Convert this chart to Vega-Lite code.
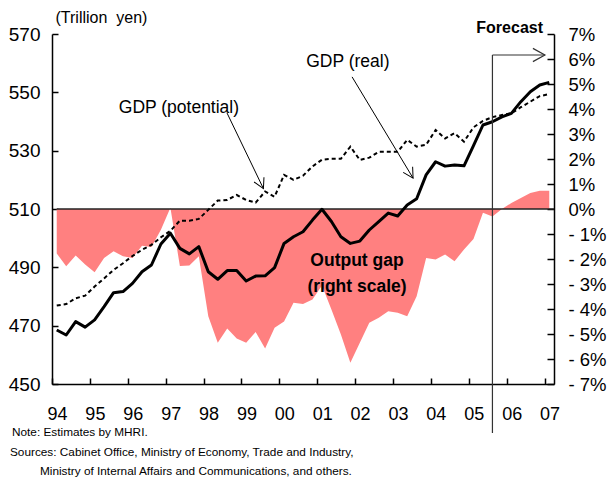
{
  "$schema": "https://vega.github.io/schema/vega-lite/v6.json",
  "width": 502,
  "height": 350,
  "autosize": "none",
  "padding": {"left": 52, "top": 34, "right": 54, "bottom": 98},
  "background": "white",
  "config": {
    "font": "Liberation Sans",
    "view": {"stroke": null},
    "axis": {"grid": false, "domainColor": "black", "tickColor": "black", "labelColor": "black", "labelFont": "Liberation Sans", "labelFontSize": 18.5, "domainWidth": 1.5, "tickWidth": 1.5, "labelOverlap": false}
  },
  "data": {"values": [
    {"t": 1994.125, "r": 468.5, "p": 476.9, "g": -1.78},
    {"t": 1994.375, "r": 466.8, "p": 477.4, "g": -2.29},
    {"t": 1994.625, "r": 471.4, "p": 479.4, "g": -1.86},
    {"t": 1994.875, "r": 469.5, "p": 480.3, "g": -2.22},
    {"t": 1995.125, "r": 472.0, "p": 483.4, "g": -2.53},
    {"t": 1995.375, "r": 476.5, "p": 486.2, "g": -1.96},
    {"t": 1995.625, "r": 481.3, "p": 489.1, "g": -1.69},
    {"t": 1995.875, "r": 481.7, "p": 491.4, "g": -1.89},
    {"t": 1996.125, "r": 484.5, "p": 493.9, "g": -1.96},
    {"t": 1996.375, "r": 488.5, "p": 496.0, "g": -1.47},
    {"t": 1996.625, "r": 490.8, "p": 497.7, "g": -1.52},
    {"t": 1996.875, "r": 498.0, "p": 500.3, "g": -0.83},
    {"t": 1997.125, "r": 501.7, "p": 502.5, "g": 0.05},
    {"t": 1997.375, "r": 496.5, "p": 506.0, "g": -2.28},
    {"t": 1997.625, "r": 494.6, "p": 506.0, "g": -2.26},
    {"t": 1997.875, "r": 497.1, "p": 506.6, "g": -1.89},
    {"t": 1998.125, "r": 488.5, "p": 509.7, "g": -4.29},
    {"t": 1998.375, "r": 485.9, "p": 512.9, "g": -5.35},
    {"t": 1998.625, "r": 488.9, "p": 513.1, "g": -4.78},
    {"t": 1998.875, "r": 488.9, "p": 514.8, "g": -5.18},
    {"t": 1999.125, "r": 485.3, "p": 513.1, "g": -5.35},
    {"t": 1999.375, "r": 487.0, "p": 512.2, "g": -4.92},
    {"t": 1999.625, "r": 487.1, "p": 516.0, "g": -5.58},
    {"t": 1999.875, "r": 489.9, "p": 514.2, "g": -4.75},
    {"t": 2000.125, "r": 498.2, "p": 521.7, "g": -4.5},
    {"t": 2000.375, "r": 500.5, "p": 520.0, "g": -3.75},
    {"t": 2000.625, "r": 502.2, "p": 521.4, "g": -3.8},
    {"t": 2000.875, "r": 506.2, "p": 524.6, "g": -3.62},
    {"t": 2001.125, "r": 509.9, "p": 526.9, "g": -3.06},
    {"t": 2001.375, "r": 505.7, "p": 527.2, "g": -4.02},
    {"t": 2001.625, "r": 500.5, "p": 527.2, "g": -5.02},
    {"t": 2001.875, "r": 498.2, "p": 531.4, "g": -6.15},
    {"t": 2002.125, "r": 499.0, "p": 526.8, "g": -5.35},
    {"t": 2002.375, "r": 502.8, "p": 527.6, "g": -4.55},
    {"t": 2002.625, "r": 505.7, "p": 529.6, "g": -4.35},
    {"t": 2002.875, "r": 508.6, "p": 529.6, "g": -4.09},
    {"t": 2003.125, "r": 507.6, "p": 529.6, "g": -4.15},
    {"t": 2003.375, "r": 511.4, "p": 533.7, "g": -4.29},
    {"t": 2003.625, "r": 513.5, "p": 531.4, "g": -3.49},
    {"t": 2003.875, "r": 521.7, "p": 532.0, "g": -1.96},
    {"t": 2004.125, "r": 526.2, "p": 537.1, "g": -2.02},
    {"t": 2004.375, "r": 524.7, "p": 534.2, "g": -1.82},
    {"t": 2004.625, "r": 525.1, "p": 536.0, "g": -2.09},
    {"t": 2004.875, "r": 524.8, "p": 533.1, "g": -1.62},
    {"t": 2005.125, "r": 531.7, "p": 538.0, "g": -1.2},
    {"t": 2005.375, "r": 538.8, "p": 540.2, "g": -0.15},
    {"t": 2005.625, "r": 539.9, "p": 541.5, "g": -0.3},
    {"t": 2005.875, "r": 541.6, "p": 542.2, "g": 0.0},
    {"t": 2006.125, "r": 542.8, "p": 542.8, "g": 0.24},
    {"t": 2006.375, "r": 546.8, "p": 544.9, "g": 0.44},
    {"t": 2006.625, "r": 550.2, "p": 546.8, "g": 0.64},
    {"t": 2006.875, "r": 552.5, "p": 548.7, "g": 0.73},
    {"t": 2007.125, "r": 553.4, "p": 549.4, "g": 0.73}
  ]},
  "layer": [
    {
      "mark": {"type": "area", "color": "#FF8080", "opacity": 1, "interpolate": "linear"},
      "encoding": {
        "x": {"field": "t", "type": "quantitative", "scale": {"domain": [1994, 2007.25], "nice": false, "zero": false},
          "axis": {"values": [1994,1995,1996,1997,1998,1999,2000,2001,2002,2003,2004,2005,2006,2007], "tickCount": 30, "tickSize": -6, "labelPadding": 27,
            "labelOffset": 5, "labelFlush": false, "labelOverlap": false, "labelSeparation": 0, "labelBound": false, "title": null,
            "labelExpr": "substring(format(datum.value, 'd'), 2, 4)", "labelFontSize": 18}},
        "y": {"field": "g", "type": "quantitative", "scale": {"domain": [-7, 7], "nice": false},
          "axis": {"orient": "right", "values": [-7,-6,-5,-4,-3,-2,-1,0,1,2,3,4,5,6,7], "tickCount": 30, "tickSize": -7, "labelPadding": 21, "title": null,
            "labelExpr": "datum.value < 0 ? '- ' + abs(datum.value) + '%' : datum.value + '%'", "labelBaseline": "middle"}}
      }
    },
    {
      "layer": [
        {
          "mark": {"type": "line", "color": "black", "strokeWidth": 3, "opacity": 0},
          "encoding": {
            "x": {"field": "t", "type": "quantitative", "scale": {"domain": [1994, 2007.25], "nice": false, "zero": false},
              "axis": {"values": [1994,1995,1996,1997,1998,1999,2000,2001,2002,2003,2004,2005,2006,2007], "tickCount": 30, "tickSize": -6, "labelPadding": 27,
                "labelOffset": 5, "labelFlush": false, "labelOverlap": false, "labelSeparation": 0, "labelBound": false, "title": null,
                "labelExpr": "substring(format(datum.value, 'd'), 2, 4)", "labelFontSize": 18}},
            "y": {"field": "r", "type": "quantitative", "scale": {"domain": [450, 570], "nice": false, "zero": false},
              "axis": {"orient": "left", "values": [450,470,490,510,530,550,570], "tickCount": 30, "tickSize": -6, "labelPadding": 18, "labelFontSize": 19,
                "title": "(Trillion\u00a0 yen)", "titleAngle": 0, "titleAlign": "left", "titleBaseline": "middle", "titleX": 3, "titleY": -17,
                "titleFontSize": 16, "titleFontWeight": "normal", "titleColor": "black", "titleFont": "Liberation Sans"}}
          }
        },
        {
          "data": {"values": [{"t": 1994.125, "t2": 2007.25, "v": 510}]},
          "mark": {"type": "rule", "color": "#222222", "strokeWidth": 1.3},
          "encoding": {
            "x": {"field": "t", "type": "quantitative"},
            "x2": {"field": "t2"},
            "y": {"field": "v", "type": "quantitative"}
          }
        },
        {
          "mark": {"type": "line", "color": "black", "strokeWidth": 2, "strokeDash": [4, 3]},
          "encoding": {
            "x": {"field": "t", "type": "quantitative"},
            "y": {"field": "p", "type": "quantitative"}
          }
        },
        {
          "mark": {"type": "line", "color": "black", "strokeWidth": 3, "strokeJoin": "round"},
          "encoding": {
            "x": {"field": "t", "type": "quantitative"},
            "y": {"field": "r", "type": "quantitative"}
          }
        },
        {
          "data": {"values": [
            {"t": 1998.62, "v": 542.9, "t2": 1999.58, "v2": 517.0},
            {"t": 2001.92, "v": 555.3, "t2": 2003.53, "v2": 520.6}
          ]},
          "mark": {"type": "rule", "color": "black", "strokeWidth": 1},
          "encoding": {
            "x": {"field": "t", "type": "quantitative"},
            "y": {"field": "v", "type": "quantitative"},
            "x2": {"field": "t2"},
            "y2": {"field": "v2"}
          }
        },
        {
          "data": {"values": [
            {"t": 2005.625, "v": 433.2, "t2": 2005.625, "v2": 562.8},
            {"t": 2005.625, "v": 562.8, "t2": 2007.01, "v2": 562.8}
          ]},
          "mark": {"type": "rule", "color": "#333333", "strokeWidth": 1.2},
          "encoding": {
            "x": {"field": "t", "type": "quantitative"},
            "y": {"field": "v", "type": "quantitative"},
            "x2": {"field": "t2"},
            "y2": {"field": "v2"}
          }
        },
        {
          "data": {"values": [{"t": 1999.58, "v": 517.0}]},
          "mark": {"type": "point", "shape": "M-1,-0.55L0,0L-1,0.55", "filled": false, "stroke": "black", "strokeWidth": 1, "size": 400, "angle": 64, "opacity": 1},
          "encoding": {
            "x": {"field": "t", "type": "quantitative"},
            "y": {"field": "v", "type": "quantitative"}
          }
        },
        {
          "data": {"values": [{"t": 2003.53, "v": 520.6}]},
          "mark": {"type": "point", "shape": "M-1,-0.55L0,0L-1,0.55", "filled": false, "stroke": "black", "strokeWidth": 1, "size": 400, "angle": 59, "opacity": 1},
          "encoding": {
            "x": {"field": "t", "type": "quantitative"},
            "y": {"field": "v", "type": "quantitative"}
          }
        },
        {
          "data": {"values": [{"t": 2007.01, "v": 562.8}]},
          "mark": {"type": "point", "shape": "M-1,-0.55L0,0L-1,0.55", "filled": false, "stroke": "#333333", "strokeWidth": 1.2, "size": 576, "angle": 0, "opacity": 1},
          "encoding": {
            "x": {"field": "t", "type": "quantitative"},
            "y": {"field": "v", "type": "quantitative"}
          }
        },
        {
          "data": {"values": [
            {"t": 1997.35, "v": 544.6, "label": "GDP (potential)"},
            {"t": 2001.81, "v": 560.4, "label": "GDP (real)"}
          ]},
          "mark": {"type": "text", "font": "Liberation Sans", "fontSize": 17.5, "color": "black", "align": "center", "baseline": "middle"},
          "encoding": {
            "x": {"field": "t", "type": "quantitative"},
            "y": {"field": "v", "type": "quantitative"},
            "text": {"field": "label"}
          }
        },
        {
          "data": {"values": [
            {"t": 2002.05, "v": 492.2, "label": "Output gap"},
            {"t": 2002.05, "v": 483.3, "label": "(right scale)"}
          ]},
          "mark": {"type": "text", "font": "Liberation Sans", "fontSize": 17.5, "fontWeight": "bold", "color": "black", "align": "center", "baseline": "middle"},
          "encoding": {
            "x": {"field": "t", "type": "quantitative"},
            "y": {"field": "v", "type": "quantitative"},
            "text": {"field": "label"}
          }
        },
        {
          "data": {"values": [{"t": 2006.96, "v": 572.1, "label": "Forecast"}]},
          "mark": {"type": "text", "font": "Liberation Sans", "fontSize": 16, "fontWeight": "bold", "color": "black", "align": "right", "baseline": "middle"},
          "encoding": {
            "x": {"field": "t", "type": "quantitative"},
            "y": {"field": "v", "type": "quantitative"},
            "text": {"field": "label"}
          }
        },
        {
          "data": {"values": [
            {"t": 1992.944, "v": 433.56, "label": "Note: Estimates by MHRI."},
            {"t": 1992.891, "v": 426.7, "label": "Sources: Cabinet Office, Ministry of Economy, Trade and Industry,"},
            {"t": 1993.683, "v": 420.02, "label": "Ministry of Internal Affairs and Communications, and others."}
          ]},
          "mark": {"type": "text", "font": "Liberation Sans", "fontSize": 11.8, "color": "black", "align": "left", "baseline": "middle"},
          "encoding": {
            "x": {"field": "t", "type": "quantitative"},
            "y": {"field": "v", "type": "quantitative"},
            "text": {"field": "label"}
          }
        }
      ]
    }
  ],
  "resolve": {"scale": {"y": "independent"}, "axis": {"y": "independent"}}
}
